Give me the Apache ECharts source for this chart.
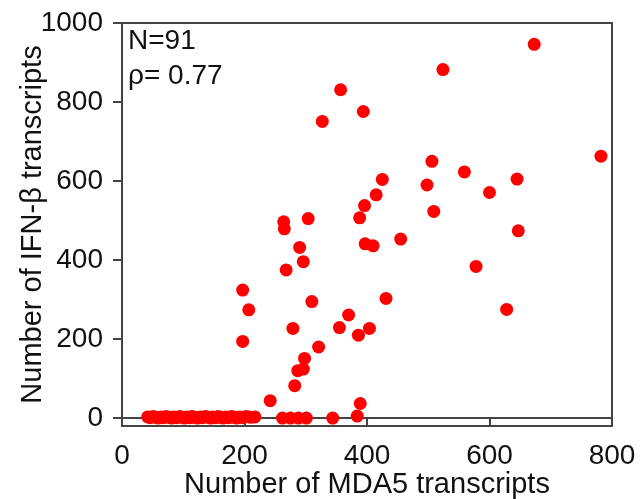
<!DOCTYPE html>
<html lang="en">
<head>
    <meta charset="UTF-8">
    <title>MDA5 vs IFN-beta</title>
    <script src="https://cdn.jsdelivr.net/npm/echarts@6.0.0/dist/echarts.min.js"></script>
    <style>
        html, body { margin: 0; padding: 0; background: #fff; }
        #chart { width: 640px; height: 499px; }
    </style>
</head>
<body>
<div id="chart"></div>
<script>
    // MDA5 transcripts (x) and IFN-b transcripts (y)
    var mda5 = [
        42, 46, 51, 55, 59, 64, 67, 72, 76, 81, 85, 89, 94, 97, 102, 106, 111, 114, 119, 123,
        128, 131, 136, 140, 145, 148, 153, 157, 162, 165, 170, 174, 179, 183, 187, 192, 197, 203, 210, 217,
        262, 275, 288, 301, 344, 384,
        357, 327, 394, 264, 265, 304, 388, 396, 673, 524,
        782, 506, 559, 425, 645, 498, 600, 415, 509, 647,
        397, 410, 455, 578, 431, 628, 404, 386, 290, 296,
        268, 197, 207, 310, 370, 355, 279, 197, 321, 298,
        287, 296, 282, 242, 389
    ];
    var ifnb = [
        3, 1, 4, 2, 0, 3, 1, 4, 2, 0, 3, 1, 4, 2, 0, 3, 1, 4, 2, 0,
        3, 1, 4, 2, 0, 3, 1, 4, 2, 0, 3, 1, 4, 2, 0, 3, 1, 4, 2, 3,
        0, 0, 0, 0, 0, 5,
        831, 751, 776, 497, 479, 505, 507, 538, 946, 882,
        663, 650, 623, 604, 605, 590, 571, 565, 523, 474,
        441, 436, 453, 384, 303, 275, 227, 210, 432, 396,
        375, 324, 274, 295, 261, 229, 227, 194, 180, 151,
        120, 124, 82, 44, 37
    ];
    var yTicks = [0, 200, 400, 600, 800, 1000];

    var points = [];
    for (var i = 0; i < mda5.length; i++) {
        points.push([mda5[i], ifnb[i]]);
    }

    var font = 'Liberation Sans, Arial, sans-serif';
    var myChart = echarts.init(document.getElementById('chart'));
    var option = {
        animation: false,
        grid: {
            left: 122, right: 28, top: 23, bottom: 73,
            outerBoundsMode: 'none',
            show: true, borderColor: '#444', borderWidth: 2
        },
        xAxis: {
            type: 'value',
            min: 0, max: 800, interval: 200,
            name: 'Number of MDA5 transcripts',
            nameLocation: 'middle',
            nameGap: 44,
            nameMoveOverlap: false,
            nameTextStyle: { fontFamily: font, fontSize: 29, color: '#111' },
            axisLine: { show: true, lineStyle: { color: '#444', width: 2 } },
            axisTick: { show: true, length: 9, lineStyle: { color: '#444', width: 2 } },
            axisLabel: { fontFamily: font, fontSize: 28, color: '#111', margin: 16 },
            splitLine: { show: false }
        },
        yAxis: {
            type: 'value',
            min: -20, max: 1000,
            name: 'Number of IFN-\u03b2 transcripts',
            nameLocation: 'middle',
            nameGap: 75,
            nameMoveOverlap: false,
            nameTextStyle: { fontFamily: font, fontSize: 29, color: '#111' },
            axisLine: { show: true, lineStyle: { color: '#444', width: 2 } },
            axisTick: { show: true, length: 9, customValues: yTicks, lineStyle: { color: '#444', width: 2 } },
            axisLabel: {
                fontFamily: font, fontSize: 28, color: '#111', margin: 19,
                customValues: yTicks,
                formatter: function (v) { return String(v); }
            },
            splitLine: { show: false }
        },
        graphic: [
            { type: 'text', left: 128, top: 27,
              style: { text: 'N=91', fontFamily: font, fontSize: 28, fill: '#111' } },
            { type: 'text', left: 128, top: 62,
              style: { text: '\u03c1= 0.77', fontFamily: font, fontSize: 28, fill: '#111' } }
        ],
        series: [{
            type: 'scatter',
            data: points,
            symbolSize: 13,
            itemStyle: { color: '#ff0000', opacity: 1 }
        }]
    };
    option && myChart.setOption(option);
</script>
</body>
</html>
